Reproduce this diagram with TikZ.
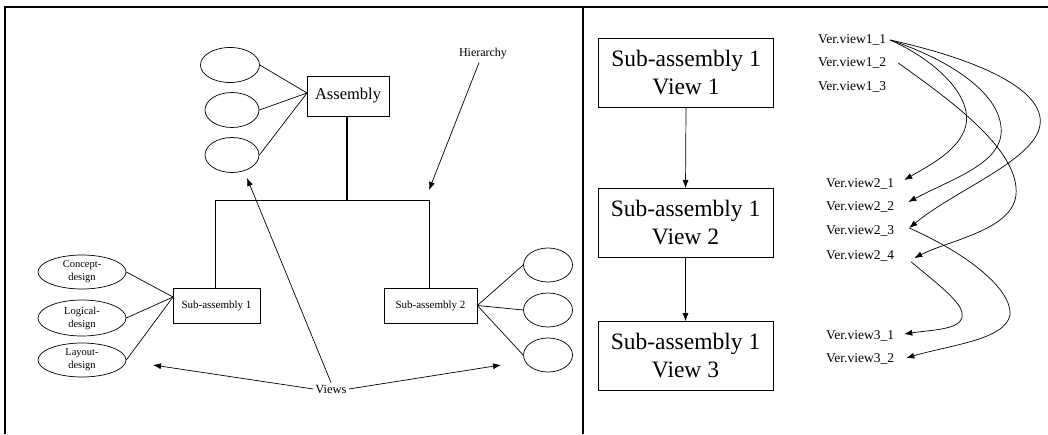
\documentclass[tikz,border=0pt]{standalone}
\usepackage{fontspec}
\setmainfont{Liberation Serif}
\usetikzlibrary{shapes.geometric,arrows.meta,calc}

\tikzset{
  thin line/.style={line width=0.7pt},
  frame/.style={line width=1.8pt},
  box/.style={draw, thin line, rectangle, inner sep=0pt, align=center},
  oval/.style={draw, thin line, ellipse, inner sep=0pt, align=center},
  arr/.style={thin line, -{Latex[length=8pt,width=6pt]}},
  smallfont/.style={font=\fontsize{10.5}{13}\selectfont},
  bigfont/.style={font=\fontsize{23.5}{28}\selectfont},
  verfont/.style={font=\fontsize{13.5}{16}\selectfont},
}

\begin{document}
\begin{tikzpicture}[x=1pt,y=-1pt]
\useasboundingbox (0,0) rectangle (1048,434);

% outer frame and divider
\draw[frame] (5,434) -- (5,7) -- (1048,7);
\draw[frame] (583,7) -- (583,434);

% ---------------- left panel: assembly hierarchy ----------------
\node[box, minimum width=82pt, minimum height=40pt,
      font=\fontsize{16.5}{19}\selectfont] (asm) at (348,96) {Assembly};

\node[oval, minimum width=59pt, minimum height=35pt] (ae1) at (230,65) {};
\node[oval, minimum width=54pt, minimum height=35pt] (ae2) at (232,110) {};
\node[oval, minimum width=54pt, minimum height=35pt] (ae3) at (232,155) {};
\coordinate (asmc) at (307,93);
\foreach \e in {ae1,ae2,ae3} \draw[thin line] (\e.east) -- (asmc);

\node[box, minimum width=87pt, minimum height=35pt,
      font=\fontsize{11}{13}\selectfont] (sub1) at (216.5,305.5) {Sub-assembly 1};
\node[box, minimum width=93pt, minimum height=35pt,
      font=\fontsize{11}{13}\selectfont] (sub2) at (430.5,305.5) {Sub-assembly 2};

% tree connector
\coordinate (junc) at (347,200);
\draw[line width=1.5pt] (asm.south -| junc) -- (junc);
\draw[thin line] (215,288) -- (215,200) -- (429,200) -- (429,288);

% views of sub-assembly 1
\node[oval, smallfont, minimum width=88pt, minimum height=34pt] (cd) at (82,272) {Concept-\\design};
\node[oval, smallfont, minimum width=88pt, minimum height=36pt] (ld) at (82,318) {Logical-\\design};
\node[oval, smallfont, minimum width=88pt, minimum height=34pt] (yd) at (82,360) {Layout-\\design};
\coordinate (s1c) at (173,297);
\foreach \e in {cd,ld,yd} \draw[thin line] (\e.east) -- (s1c);

% views of sub-assembly 2
\node[oval, minimum width=49pt, minimum height=34pt] (be1) at (548,265) {};
\node[oval, minimum width=49pt, minimum height=34pt] (be2) at (548,310) {};
\node[oval, minimum width=49pt, minimum height=34pt] (be3) at (548,355) {};
\foreach \e in {be1,be2,be3} \draw[thin line] (sub2.east) -- (\e.west);

% labels with pointers
\node[font=\fontsize{12}{14}\selectfont, inner sep=1pt] (hier) at (483,54) {Hierarchy};
\coordinate (hiertip) at (429,190);
\draw[arr] (hier.south) ++(-4,2) -- (hiertip);

\node[font=\fontsize{12.5}{15}\selectfont, inner sep=2pt] (views) at (331,389) {Views};
\coordinate (vleft) at (153,365);
\coordinate (vright) at (501,365);
\coordinate (vup) at (247,178);
\draw[arr] (views.west) -- (vleft);
\draw[arr] (views.east) -- (vright);
\draw[arr] (views.north) -- (vup);

% ---------------- right panel: view versions ----------------
\node[box, bigfont, minimum width=175pt, minimum height=69pt] (sv1) at (686,72.5) {Sub-assembly 1\\View 1};
\node[box, bigfont, minimum width=175pt, minimum height=69pt] (sv2) at (685.5,223) {Sub-assembly 1\\View 2};
\node[box, bigfont, minimum width=175pt, minimum height=69pt] (sv3) at (685.5,356) {Sub-assembly 1\\View 3};
\draw[arr] (sv1.south) -- (sv2.north);
\draw[arr] (sv2.south) -- (sv3.north);

\node[verfont, anchor=west, inner sep=0pt] (v11) at (818,40) {Ver.view1\_1};
\node[verfont, anchor=west, inner sep=0pt] (v12) at (818,63) {Ver.view1\_2};
\node[verfont, anchor=west, inner sep=0pt] (v13) at (818,87) {Ver.view1\_3};
\node[verfont, anchor=west, inner sep=0pt] (v21) at (826,184) {Ver.view2\_1};
\node[verfont, anchor=west, inner sep=0pt] (v22) at (826,207) {Ver.view2\_2};
\node[verfont, anchor=west, inner sep=0pt] (v23) at (826,231) {Ver.view2\_3};
\node[verfont, anchor=west, inner sep=0pt] (v24) at (826,256) {Ver.view2\_4};
\node[verfont, anchor=west, inner sep=0pt] (v31) at (826,336) {Ver.view3\_1};
\node[verfont, anchor=west, inner sep=0pt] (v32) at (826,359) {Ver.view3\_2};

% version links
\coordinate (o11) at ($(v11.east)+(4,0)$);
\coordinate (o12) at ($(v12.east)+(12,0)$);
\coordinate (i21) at ($(v21.east)+(10,-4)$);
\coordinate (i22) at ($(v22.east)+(14,-5)$);
\coordinate (i23) at ($(v23.east)+(15,-3)$);
\coordinate (i24) at ($(v24.east)+(20,2)$);
\coordinate (o24) at ($(v24.east)+(17,6)$);
\coordinate (i31) at ($(v31.east)+(10,-2)$);
\coordinate (i32) at ($(v32.east)+(12,-1)$);

\draw[arr] (o11) .. controls (935,60) and (972,95) .. (966,125)
                 .. controls (960,150) and (930,165) .. (i21);
\draw[arr] (o11) .. controls (950,60) and (1005,95) .. (1001,135)
                 .. controls (997,165) and (950,180) .. (i22);
\draw[arr] (o11) .. controls (980,60) and (1045,90) .. (1040,125)
                 .. controls (1035,160) and (955,190) .. (i23);
\draw[arr] (o12) .. controls (950,100) and (1020,150) .. (1016,195)
                 .. controls (1012,230) and (950,240) .. (i24);
\draw[arr] (i23) .. controls (970,255) and (1012,290) .. (1010,315)
                 .. controls (1005,340) and (950,345) .. (i32);
\draw[arr] (o24) .. controls (945,290) and (965,305) .. (962,318)
                 .. controls (958,330) and (930,330) .. (i31);
\end{tikzpicture}
\end{document}
